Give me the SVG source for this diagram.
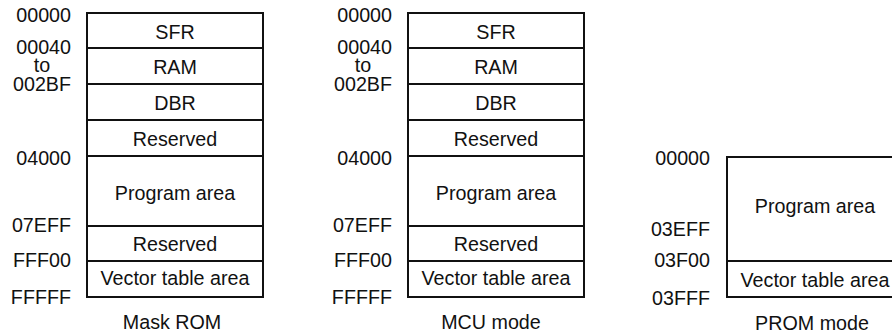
<svg xmlns="http://www.w3.org/2000/svg" width="892" height="333" viewBox="0 0 892 333">
<style>
text{font-family:"Liberation Sans",Arial,Helvetica,sans-serif;font-size:19.7px;fill:#111}
.r{text-anchor:end}
.c{text-anchor:middle}
.box{fill:#fff;stroke:#111;stroke-width:2}
.div{stroke:#111;stroke-width:2;fill:none}
</style>
<rect width="892" height="333" fill="#fff"/>

<!-- Mask ROM -->
<g id="maskrom">
  <rect class="box" x="87" y="13" width="176" height="284"/>
  <g id="maskrom-dividers" class="div">
    <line x1="87" y1="48" x2="263" y2="48"/>
    <line x1="87" y1="84" x2="263" y2="84"/>
    <line x1="87" y1="120" x2="263" y2="120"/>
    <line x1="87" y1="156" x2="263" y2="156"/>
    <line x1="87" y1="226" x2="263" y2="226"/>
    <line x1="87" y1="261" x2="263" y2="261"/>
  </g>
  <g id="maskrom-cells">
    <text class="c" x="175" y="38.5">SFR</text>
    <text class="c" x="175" y="73.5">RAM</text>
    <text class="c" x="175" y="109.5">DBR</text>
    <text class="c" x="175" y="145.7">Reserved</text>
    <text class="c" x="175" y="199.5">Program area</text>
    <text class="c" x="175" y="250.7">Reserved</text>
    <text class="c" x="175" y="285.3">Vector table area</text>
  </g>
  <g id="maskrom-addr">
    <text class="r" x="71" y="21.7">00000</text>
    <text class="r" x="71" y="54">00040</text>
    <text class="c" x="42" y="71.7">to</text>
    <text class="r" x="71" y="90.7">002BF</text>
    <text class="r" x="71" y="165">04000</text>
    <text class="r" x="71" y="231.7">07EFF</text>
    <text class="r" x="71" y="267.3">FFF00</text>
    <text class="r" x="71" y="303.5">FFFFF</text>
  </g>
  <text class="c" x="172" y="329">Mask ROM</text>
</g>

<!-- MCU mode -->
<g id="mcumode">
  <rect class="box" x="408" y="13" width="176" height="284"/>
  <g id="mcumode-dividers" class="div">
    <line x1="408" y1="48" x2="584" y2="48"/>
    <line x1="408" y1="84" x2="584" y2="84"/>
    <line x1="408" y1="120" x2="584" y2="120"/>
    <line x1="408" y1="156" x2="584" y2="156"/>
    <line x1="408" y1="226" x2="584" y2="226"/>
    <line x1="408" y1="261" x2="584" y2="261"/>
  </g>
  <g id="mcumode-cells">
    <text class="c" x="496" y="38.5">SFR</text>
    <text class="c" x="496" y="73.5">RAM</text>
    <text class="c" x="496" y="109.5">DBR</text>
    <text class="c" x="496" y="145.7">Reserved</text>
    <text class="c" x="496" y="199.5">Program area</text>
    <text class="c" x="496" y="250.7">Reserved</text>
    <text class="c" x="496" y="285.3">Vector table area</text>
  </g>
  <g id="mcumode-addr">
    <text class="r" x="392" y="21.7">00000</text>
    <text class="r" x="392" y="54">00040</text>
    <text class="c" x="363" y="71.7">to</text>
    <text class="r" x="392" y="90.7">002BF</text>
    <text class="r" x="392" y="165">04000</text>
    <text class="r" x="392" y="231.7">07EFF</text>
    <text class="r" x="392" y="267.3">FFF00</text>
    <text class="r" x="392" y="303.5">FFFFF</text>
  </g>
  <text class="c" x="491" y="329">MCU mode</text>
</g>

<!-- PROM mode -->
<g id="prommode">
  <rect class="box" x="727" y="157" width="176" height="140"/>
  <line class="div" x1="727" y1="261" x2="903" y2="261"/>
  <text class="c" x="815" y="212.7">Program area</text>
  <text class="c" x="815" y="286.5">Vector table area</text>
  <g id="prommode-addr">
    <text class="r" x="710" y="165">00000</text>
    <text class="r" x="710" y="236">03EFF</text>
    <text class="r" x="710" y="267.3">03F00</text>
    <text class="r" x="710" y="305">03FFF</text>
  </g>
  <text class="c" x="812" y="329.5">PROM mode</text>
</g>
</svg>
